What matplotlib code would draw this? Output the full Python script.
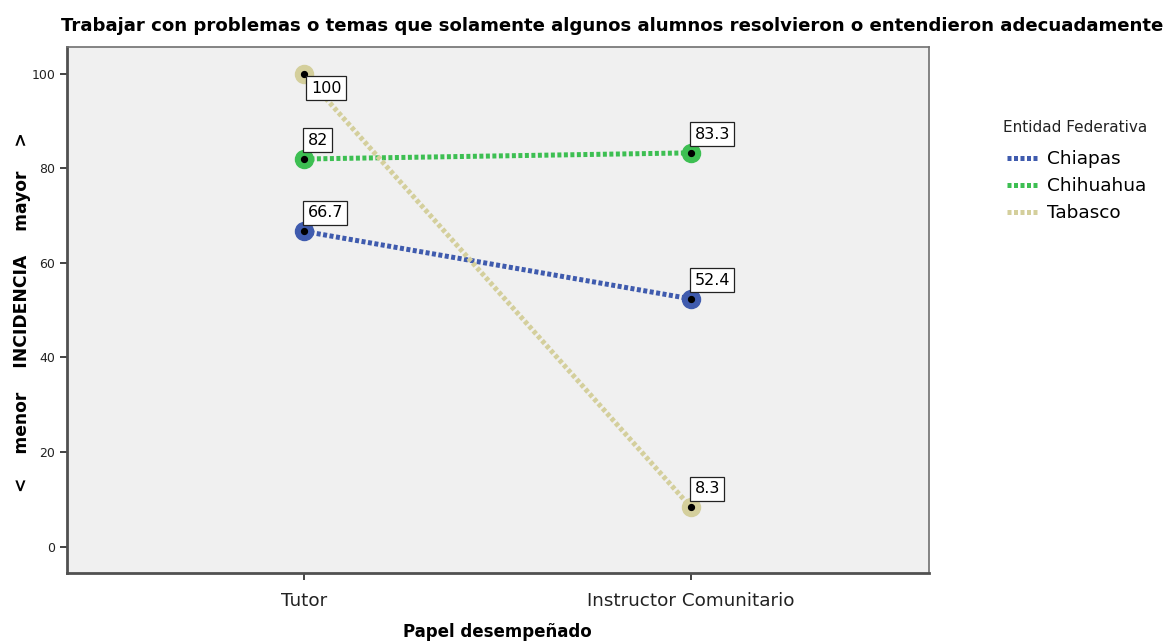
import numpy as np
import matplotlib.pyplot as plt

plt.rcParams['font.family'] = ['DejaVu Sans']

# categories on x and one series per state
papeles = ["Tutor", "Instructor Comunitario"]
entidades = ["Chiapas", "Chihuahua", "Tabasco"]
chiapas = [66.7, 52.4]
chihuahua = [82, 83.3]
tabasco = [100, 8.3]
colores = ["#3f5bae", "#3dbf52", "#d4cf9c"]

series = [chiapas, chihuahua, tabasco]

fig = plt.figure(figsize=(11.74, 6.43), dpi=100)
ax = fig.add_axes([0.0571, 0.1089, 0.7342, 0.818])
ax.set_facecolor("#f0f0f0")

xs = np.arange(len(papeles))
for nombre, vals, col in zip(entidades, series, colores):
    ax.plot(xs, vals, color=col, lw=3.6, linestyle=(0, (0.8, 0.5)),
            dash_capstyle="butt", label=nombre, zorder=2)
    ax.plot(xs, vals, "o", ms=13, color=col, zorder=3)
    ax.plot(xs, vals, "o", ms=4.2, color="black", zorder=4)
    for x, v in zip(xs, vals):
        txt = ("%g" % v)
        if v >= 100:
            off = (5, -5)
            va = "top"
        else:
            off = (2.5, 8)
            va = "bottom"
        ax.annotate(txt, (x, v), xytext=off, textcoords="offset points",
                    ha="left", va=va, fontsize=11.5, zorder=5,
                    bbox=dict(boxstyle="square,pad=0.28", fc="white",
                              ec="#222222", lw=0.9))

ax.set_xlim(-0.612, 1.615)
ax.set_ylim(-5.6, 105.7)
ax.set_xticks(xs)
ax.set_xticklabels(papeles, fontsize=13.2, color="#222222")
ax.set_yticks([0, 20, 40, 60, 80, 100])
ax.tick_params(axis="y", labelsize=9, colors="#222222", length=5, width=1.2)
ax.tick_params(axis="x", length=5, width=1.2, colors="#222222", pad=9)
for s in ["left", "bottom"]:
    ax.spines[s].set_color("#505050")
    ax.spines[s].set_linewidth(2)
for s in ["top", "right"]:
    ax.spines[s].set_color("#707070")
    ax.spines[s].set_linewidth(1.2)

fig.text(0.521, 0.96, "Trabajar con problemas o temas que solamente algunos alumnos resolvieron o entendieron adecuadamente",
         ha="center", va="center", fontsize=13.05, fontweight="bold")
fig.text(0.424, 0.017, "Papel desempeñado", ha="center", va="center",
         fontsize=12, fontweight="bold")
fig.text(0.019, 0.515, "<    menor    INCIDENCIA    mayor    >", rotation=90,
         ha="center", va="center", fontsize=12.3, fontweight="bold")

# legend title drawn apart so it can sit a bit left of the handles
fig.text(1003 / 1174, 1 - 128 / 643, "Entidad Federativa", ha="left",
         va="center", fontsize=11, color="#222222")
leg = fig.legend(*ax.get_legend_handles_labels(), loc="upper left",
                 bbox_to_anchor=(1007 / 1174, 1 - 150 / 643), frameon=False,
                 fontsize=13.3, handlelength=1.75, handletextpad=0.4,
                 labelspacing=0.5, borderaxespad=0, borderpad=0)

plt.savefig("out.png", dpi=100)
